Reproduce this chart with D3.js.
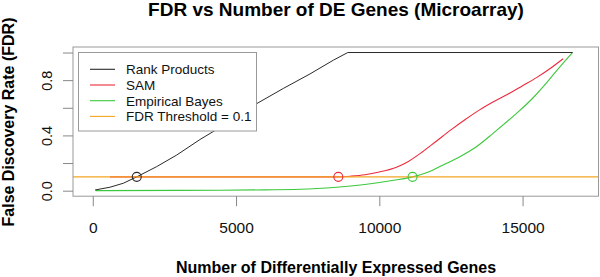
<!DOCTYPE html>
<html>
<head>
<meta charset="utf-8">
<script src="https://cdn.jsdelivr.net/npm/d3@7"></script>
<style>
  body { margin: 0; background: #fff; }
  svg { display: block; font-family: "Liberation Sans", Arial, sans-serif; }
</style>
</head>
<body>
<svg id="chart" width="600" height="277"></svg>
<script>
// data
var rankX = [80, 600, 1070, 1535, 2230, 2930, 3740, 4500, 5720, 6650, 7580, 8400, 8900, 16750];
var rankY = [0.005, 0.025, 0.054, 0.1, 0.174, 0.258, 0.37, 0.465, 0.63, 0.74, 0.845, 0.945, 1.0, 1.0];

var samX = [600, 8600, 9030, 9500, 10000, 10600, 11000, 11500, 12000, 12500, 13000, 13500, 14000, 14500, 15000, 15500, 16000, 16415];
var samY = [0.1, 0.1, 0.105, 0.115, 0.135, 0.17, 0.21, 0.28, 0.36, 0.44, 0.515, 0.585, 0.645, 0.70, 0.76, 0.82, 0.89, 0.955];

var ebX = [100, 3000, 6000, 7230, 8500, 9560, 10500, 11160, 11880, 12115, 12810, 13400, 13970, 14790, 15310, 15835, 16065, 16400, 16740];
var ebY = [0, 0.002, 0.006, 0.01, 0.025, 0.046, 0.075, 0.1, 0.15, 0.175, 0.246, 0.32, 0.415, 0.56, 0.66, 0.78, 0.838, 0.92, 1.0];

var threshold = 0.1;
// where each method crosses the threshold
var crossX = [1535, 8570, 11160];

var seriesNames = ["Rank Products", "SAM", "Empirical Bayes", "FDR Threshold = 0.1"];
var seriesColors = ["#2a2a2a", "#ec2a3c", "#3cc83c", "#f5a623"];

var xTicks = [0, 5000, 10000, 15000];
var yTicks = [0, 0.2, 0.4, 0.6, 0.8, 1.0];
var yTickLabels = ["0.0", "", "0.4", "", "0.8", ""];

var svg = d3.select("#chart");

var x = d3.scaleLinear().domain([-690, 17650]).range([73, 598.5]);
var y = d3.scaleLinear().domain([-0.04, 1.04]).range([196.2, 47]);

var line = d3.line()
  .x(function(d) { return x(d[0]); })
  .y(function(d) { return y(d[1]); })
  .curve(d3.curveMonotoneX);

function pairs(xs, ys) {
  return xs.map(function(v, i) { return [v, ys[i]]; });
}

var plot = svg.append("g").attr("class", "data");

// curves
plot.append("path").datum(pairs(samX, samY))
  .attr("d", line).attr("fill", "none")
  .attr("stroke", seriesColors[1]).attr("stroke-width", 1.1);
plot.append("path").datum(pairs(ebX, ebY))
  .attr("d", line).attr("fill", "none")
  .attr("stroke", seriesColors[2]).attr("stroke-width", 1.1);
plot.append("path").datum(pairs(rankX, rankY))
  .attr("d", line.curve(d3.curveLinear)).attr("fill", "none")
  .attr("stroke", seriesColors[0]).attr("stroke-width", 1);

// threshold line across the whole plot region
plot.append("line")
  .attr("x1", x.range()[0]).attr("x2", x.range()[1])
  .attr("y1", y(threshold)).attr("y2", y(threshold))
  .attr("stroke", seriesColors[3]).attr("stroke-width", 1.2);

// crossing markers
plot.selectAll("circle").data(crossX)
  .enter().append("circle")
  .attr("cx", function(d) { return x(d); })
  .attr("cy", y(threshold))
  .attr("r", 4.5)
  .attr("fill", "none")
  .attr("stroke", function(d, i) { return seriesColors[i]; })
  .attr("stroke-width", 1.1);

// box
svg.append("rect")
  .attr("x", x.range()[0]).attr("y", y.range()[1])
  .attr("width", x.range()[1] - x.range()[0])
  .attr("height", y.range()[0] - y.range()[1])
  .attr("fill", "none").attr("stroke", "#999");

// x axis
var xAxis = d3.axisBottom(x).tickValues(xTicks).tickSize(10).tickPadding(16)
  .tickFormat(d3.format("d"));
var gx = svg.append("g").attr("class", "x-axis")
  .attr("transform", "translate(0," + y.range()[0] + ")")
  .call(xAxis);
gx.select(".domain").remove();
gx.selectAll("line").attr("stroke", "#888");
gx.selectAll("text").attr("font-size", "15.5px").attr("fill", "#111");

// y axis
var yAxis = d3.axisLeft(y).tickValues(yTicks).tickSize(10)
  .tickFormat(function(d, i) { return yTickLabels[i]; });
var gy = svg.append("g").attr("class", "y-axis")
  .attr("transform", "translate(" + x.range()[0] + ",0)")
  .call(yAxis);
gy.select(".domain").remove();
gy.selectAll("line").attr("stroke", "#888");
gy.selectAll("text")
  .attr("font-size", "14.5px").attr("fill", "#111")
  .attr("x", null).attr("dy", null)
  .attr("text-anchor", "middle")
  .attr("transform", "translate(-21,0) rotate(-90)");

// titles
svg.append("text")
  .attr("x", 336).attr("y", 16)
  .attr("text-anchor", "middle")
  .attr("font-size", "19px").attr("font-weight", "bold")
  .text("FDR vs Number of DE Genes (Microarray)");

svg.append("text")
  .attr("x", 336).attr("y", 273)
  .attr("text-anchor", "middle")
  .attr("font-size", "16px").attr("font-weight", "bold")
  .text("Number of Differentially Expressed Genes");

svg.append("text")
  .attr("transform", "translate(14,122) rotate(-90)")
  .attr("text-anchor", "middle")
  .attr("font-size", "16px").attr("font-weight", "bold")
  .text("False Discovery Rate (FDR)");

// legend
var legend = svg.append("g").attr("class", "legend");
legend.append("rect")
  .attr("x", 78.5).attr("y", 52.5).attr("width", 178).attr("height", 78.5)
  .attr("fill", "#fff").attr("stroke", "#999");
var rows = legend.selectAll("g.row").data(seriesNames)
  .enter().append("g").attr("class", "row")
  .attr("transform", function(d, i) { return "translate(0," + (69.3 + i * 15.7) + ")"; });
rows.append("line")
  .attr("x1", 90).attr("x2", 115).attr("y1", 0).attr("y2", 0)
  .attr("stroke", function(d, i) { return seriesColors[i]; })
  .attr("stroke-width", 1.1);
rows.append("text")
  .attr("x", 126).attr("y", 4.8)
  .attr("font-size", "13.5px").attr("fill", "#111")
  .text(function(d) { return d; });
</script>
</body>
</html>
